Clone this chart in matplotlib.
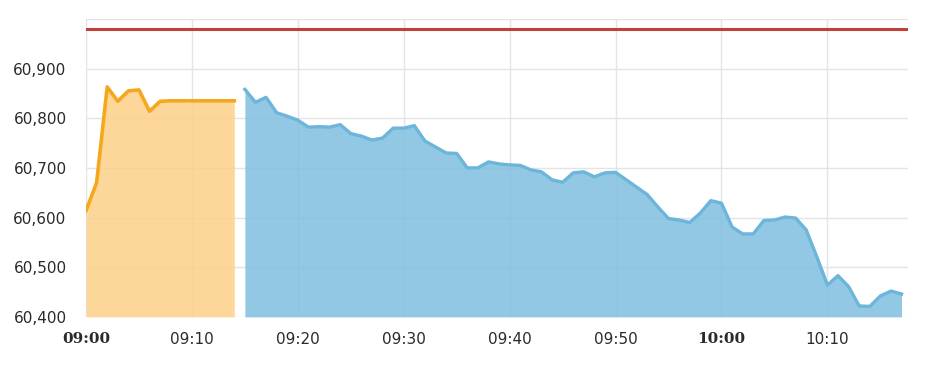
import matplotlib.pyplot as plt
import numpy as np

# minutes after 09:00
pre_min = list(range(0, 15))
pre_val = [60614, 60670, 60863, 60834, 60855, 60857, 60814, 60834,
           60835, 60835, 60835, 60835, 60835, 60835, 60835]

main_min = list(range(15, 78))
main_val = [60858, 60832, 60842, 60811, 60804, 60796, 60782, 60783, 60782, 60787,
            60769, 60764, 60756, 60760, 60780, 60780, 60785, 60754, 60742, 60730,
            60729, 60700, 60700, 60712, 60708, 60706, 60705, 60696, 60692, 60676,
            60671, 60690, 60692, 60682, 60690, 60691, 60676, 60661, 60646, 60621,
            60598, 60595, 60590, 60609, 60634, 60629, 60581, 60567, 60567, 60594,
            60595, 60601, 60599, 60575, 60521, 60464, 60483, 60461, 60422, 60421,
            60442, 60452, 60446]

ref_level = 60979

xticks = [0, 10, 20, 30, 40, 50, 60, 70]
xlabels = ["09:00", "09:10", "09:20", "09:30", "09:40", "09:50", "10:00", "10:10"]
yticks = [60400, 60500, 60600, 60700, 60800, 60900]

fig = plt.figure(figsize=(9.35, 3.85), dpi=100)
ax = fig.add_axes([0.092, 0.177, 0.879, 0.774])

ymin = 60400
# semi-transparent fills so the grid shows through faintly
ax.fill_between(pre_min, pre_val, ymin, color="#fdd188", alpha=0.85, lw=0)
ax.plot(pre_min, pre_val, color="#f5a81e", lw=2.6)
ax.fill_between(main_min, main_val, ymin, color="#7fbfdf", alpha=0.85, lw=0)
ax.plot(main_min, main_val, color="#6cb5db", lw=2.4)
ax.axhline(ref_level, color="#c0403a", lw=2.2, zorder=5)

ax.set_xlim(0, 77.6)
ax.set_ylim(ymin, 61000)
ax.set_xticks(xticks)
ax.set_xticklabels(xlabels)
for t in ax.get_xticklabels():
    if t.get_text() in ("09:00", "10:00"):
        t.set_fontweight("bold")
        t.set_family("DejaVu Serif")
        t.set_color("black")
ax.set_yticks(yticks + [61000])
ax.set_yticklabels(["{:,}".format(v) for v in yticks] + [""])

ax.grid(True, color="#e4e4e4", lw=1)
ax.set_axisbelow(True)
for s in ax.spines.values():
    s.set_visible(False)
ax.tick_params(length=0, labelsize=11, colors="#2a2a2a")
ax.tick_params(axis="x", pad=11)
ax.tick_params(axis="y", pad=14)

fig.savefig("out.png", dpi=100)
